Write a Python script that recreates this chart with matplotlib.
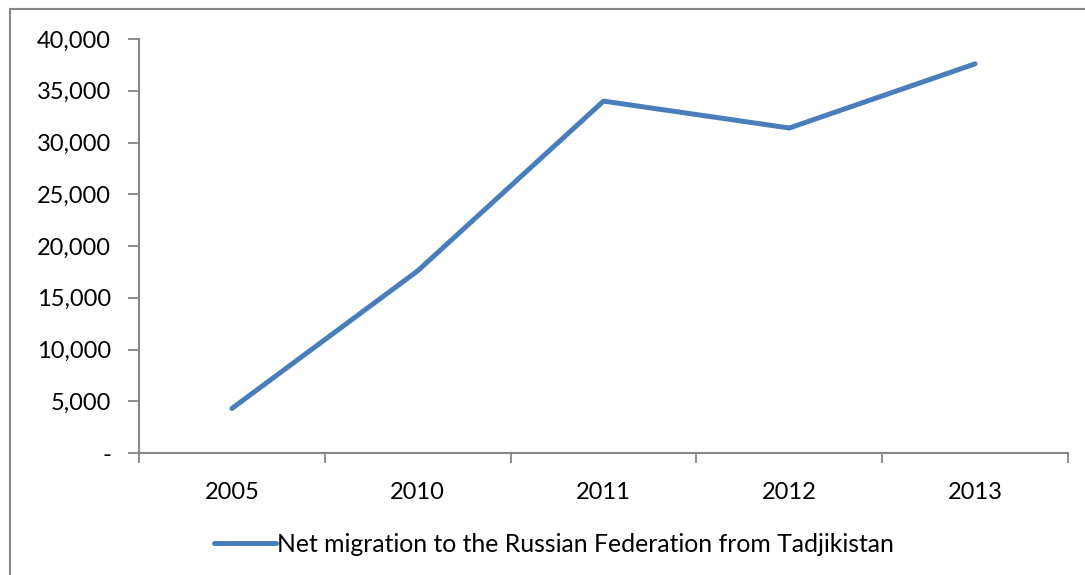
import numpy as np
import matplotlib
matplotlib.use("Agg")
import matplotlib.pyplot as plt
from matplotlib.ticker import FuncFormatter, FixedLocator
from matplotlib.lines import Line2D
from matplotlib.patches import Rectangle

# ---------- DATA ----------
years = ["2005", "2010", "2011", "2012", "2013"]
net_migration = [4300, 17600, 34000, 31400, 37600]
series_name = "Net migration to the Russian Federation from Tadjikistan"
# ---------------------------

LINE_COLOR = "#4A7EBB"
AXIS_COLOR = "#868686"
FONT = ["Lato", "DejaVu Sans"]

plt.rcParams["font.family"] = FONT

fig = plt.figure(figsize=(10.85, 5.75), dpi=100)
W, H = 1085, 575

# chart area border (clipped on right/bottom like the reference)
fig.patches.append(Rectangle((10 / W, -0.1), 1.2, (575 - 9) / H + 0.1,
                             transform=fig.transFigure, fill=False,
                             edgecolor=AXIS_COLOR, linewidth=1.5))

ax = fig.add_axes([139 / W, 1 - 453 / H, (1068 - 139) / W, (453 - 39) / H])

x = np.arange(len(years))
ax.plot(x, net_migration, color=LINE_COLOR, linewidth=3.6, solid_capstyle="round",
        solid_joinstyle="round")

ax.set_xlim(-0.5, len(years) - 0.5)
ax.set_ylim(0, 40000)
ax.set_yticks(np.arange(0, 40001, 5000))
ax.yaxis.set_major_formatter(FuncFormatter(lambda v, p: "-" if v == 0 else f"{int(v):,}"))

# category labels at centers, ticks at boundaries
ax.xaxis.set_major_locator(FixedLocator(np.arange(-0.5, len(years), 1.0)))
ax.xaxis.set_minor_locator(FixedLocator(x))
ax.set_xticklabels([""] * (len(years) + 1))
ax.set_xticklabels(years, minor=True)
ax.tick_params(axis="x", which="major", length=7, width=1.3, color=AXIS_COLOR, direction="out")
ax.tick_params(axis="x", which="minor", length=0, pad=21, labelsize=17)
ax.tick_params(axis="y", length=8, width=1.3, color=AXIS_COLOR, labelsize=17, pad=12)

for side in ["top", "right"]:
    ax.spines[side].set_visible(False)
for side in ["left", "bottom"]:
    ax.spines[side].set_color(AXIS_COLOR)
    ax.spines[side].set_linewidth(1.5)

handle = Line2D([], [], color=LINE_COLOR, linewidth=3.6, solid_capstyle="round")
fig.legend([handle], [series_name], loc="center", bbox_to_anchor=(554 / W, 1 - 544 / H),
           frameon=False, fontsize=17.8, handlelength=2.5, handletextpad=0.05)

fig.savefig("out.png", dpi=100)
